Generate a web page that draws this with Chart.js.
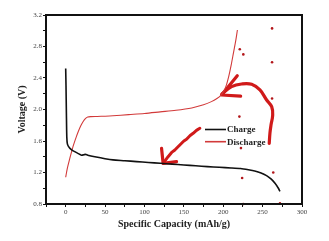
<!DOCTYPE html>
<html>
<head>
<meta charset="utf-8">
<script src="https://cdn.jsdelivr.net/npm/chart.js@4/dist/chart.umd.min.js"></script>
<style>
html,body{margin:0;padding:0;background:#fff;}
#wrap{width:329px;height:241px;}
</style>
</head>
<body>
<div id="wrap"><canvas id="c" width="329" height="241"></canvas></div>
<script>
// Charge curve (black)
const chargeCap = [0, 0.4, 0.9, 1.4, 2.2, 5, 8, 11.5, 16, 20, 23, 25, 28, 37, 50, 60, 75, 90, 105, 120, 135, 150, 165, 180, 195, 210, 222, 232, 240, 248, 255, 261, 266, 270, 272];
const chargeV   = [2.52, 2.3, 1.95, 1.65, 1.56, 1.51, 1.485, 1.465, 1.44, 1.42, 1.425, 1.43, 1.42, 1.40, 1.375, 1.36, 1.35, 1.338, 1.327, 1.317, 1.306, 1.296, 1.285, 1.274, 1.266, 1.258, 1.25, 1.235, 1.22, 1.195, 1.16, 1.115, 1.06, 1.0, 0.96];
// Discharge curve (red)
const dischargeCap = [0, 2, 5, 9, 13, 16, 19, 22, 25, 28, 32, 40, 50, 60, 80, 100, 120, 140, 160, 175, 185, 192, 197, 201, 204, 207, 210, 213, 216, 218];
const dischargeV   = [1.14, 1.25, 1.37, 1.52, 1.64, 1.72, 1.79, 1.845, 1.885, 1.905, 1.91, 1.912, 1.915, 1.92, 1.935, 1.95, 1.97, 1.99, 2.02, 2.06, 2.10, 2.14, 2.18, 2.24, 2.31, 2.42, 2.56, 2.72, 2.88, 3.01];
// Red dot marks (annotations)
const dotCap = [262, 221, 225.5, 262, 262, 220.5, 222.5, 263.5, 224, 272, 225.5];
const dotV   = [3.03, 2.765, 2.70, 2.60, 2.14, 1.91, 1.51, 1.20, 1.13, 0.81, 0.80];
// Hand-drawn arrow 1 (upper right)
const arrow1HeadCap = [217.8, 197.9, 222.1];
const arrow1HeadV   = [2.43, 2.184, 2.17];
const arrow1ShaftCap = [198.3, 210.6, 223.3, 236.1, 246.6, 255.1, 261.5, 262.8, 260.6, 259.3, 258.4];
const arrow1ShaftV   = [2.197, 2.29, 2.324, 2.32, 2.248, 2.121, 2.036, 1.93, 1.80, 1.70, 1.57];
// Hand-drawn arrow 2 (middle)
const arrow2HeadCap = [121.7, 123.7, 140.7];
const arrow2HeadV   = [1.507, 1.317, 1.337];
const arrow2ShaftCap = [123.7, 130.0, 134.5, 138.6, 142.0, 144.9, 150.0, 153.4, 158.0, 161.8, 166.0, 170.3];
const arrow2ShaftV   = [1.317, 1.401, 1.455, 1.486, 1.52, 1.549, 1.60, 1.622, 1.67, 1.698, 1.735, 1.761];
// Axis ticks
const xTickLabels = [0, 50, 100, 150, 200, 250, 300];
const yTickLabels = [0.8, 1.2, 1.6, 2.0, 2.4, 2.8, 3.2];

const pts = (xs, ys) => xs.map((x, i) => ({x: x, y: ys[i]}));
const RED = '#d01a1a';
const SERIF = "'Liberation Serif', 'DejaVu Serif', serif";

const frame = {
  id: 'frame',
  afterDatasetsDraw(chart) {
    const {ctx, chartArea: a} = chart;
    ctx.save();
    ctx.strokeStyle = '#111';
    ctx.lineWidth = 2;
    ctx.strokeRect(a.left, a.top, a.right - a.left, a.bottom - a.top);
    ctx.restore();
  },
  afterDraw(chart) {
    const {ctx, chartArea: a} = chart;
    const items = [chart.data.datasets[0], chart.data.datasets[1]];
    ctx.save();
    ctx.font = "bold 9px " + SERIF;
    ctx.textBaseline = 'middle';
    items.forEach((ds, i) => {
      const y = a.top + 114.5 + i * 12.2;
      const x0 = a.left + 159;
      ctx.strokeStyle = ds.borderColor;
      ctx.lineWidth = 1.6;
      ctx.beginPath();
      ctx.moveTo(x0, y);
      ctx.lineTo(x0 + 21, y);
      ctx.stroke();
      ctx.fillStyle = '#222';
      ctx.fillText(ds.label, x0 + 22, y + 0.5);
    });
    ctx.restore();
  }
};

new Chart(document.getElementById('c'), {
  type: 'scatter',
  data: {
    datasets: [
      {label: 'Charge', data: pts(chargeCap, chargeV), showLine: true, borderColor: '#111', borderWidth: 1.6, pointRadius: 0, tension: 0.2},
      {label: 'Discharge', data: pts(dischargeCap, dischargeV), showLine: true, borderColor: '#d23a3a', borderWidth: 1.1, pointRadius: 0, tension: 0.3},
      {label: 'marks', data: pts(dotCap, dotV), showLine: false, pointRadius: 1.3, pointBackgroundColor: '#b3161a', pointBorderWidth: 0, borderColor: '#b3161a', clip: false},
      {label: 'a1h', data: pts(arrow1HeadCap, arrow1HeadV), showLine: true, borderColor: RED, borderWidth: 3.2, pointRadius: 0, tension: 0, borderJoinStyle: 'round', borderCapStyle: 'round'},
      {label: 'a1s', data: pts(arrow1ShaftCap, arrow1ShaftV), showLine: true, borderColor: RED, borderWidth: 3.2, pointRadius: 0, tension: 0.4, borderCapStyle: 'round'},
      {label: 'a2h', data: pts(arrow2HeadCap, arrow2HeadV), showLine: true, borderColor: RED, borderWidth: 3.2, pointRadius: 0, tension: 0, borderJoinStyle: 'round', borderCapStyle: 'round'},
      {label: 'a2s', data: pts(arrow2ShaftCap, arrow2ShaftV), showLine: true, borderColor: RED, borderWidth: 3, pointRadius: 0, tension: 0, borderJoinStyle: 'round', borderCapStyle: 'round'}
    ]
  },
  options: {
    responsive: false,
    animation: false,
    layout: {padding: {left: 16, top: 15, right: 27, bottom: 11}},
    plugins: {legend: {display: false}, tooltip: {enabled: false}},
    scales: {
      x: {
        type: 'linear', min: -25, max: 300,
        afterFit(s) { s.height = 26; },
        border: {display: true, color: '#111', width: 2},
        grid: {drawOnChartArea: false, drawTicks: true, tickLength: 3, tickColor: '#111'},
        ticks: {
          stepSize: 25, padding: 1, color: '#444', maxRotation: 0, autoSkip: false,
          font: {family: SERIF, size: 7},
          callback: v => xTickLabels.includes(v) ? String(v) : ''
        },
        title: {display: true, text: 'Specific Capacity (mAh/g)', color: '#222', padding: 0,
          font: {family: SERIF, size: 10, weight: 'bold'}}
      },
      y: {
        type: 'linear', min: 0.8, max: 3.2,
        afterFit(s) { s.width = 30; },
        border: {display: true, color: '#111', width: 2},
        grid: {drawOnChartArea: false, drawTicks: true, tickLength: 3, tickColor: '#111'},
        ticks: {
          stepSize: 0.2, padding: 1, color: '#444', autoSkip: false,
          font: {family: SERIF, size: 7},
          callback: v => {
            const r = Math.round(v * 10) / 10;
            return yTickLabels.some(t => Math.abs(t - r) < 1e-6) ? r.toFixed(1) : '';
          }
        },
        title: {display: true, text: 'Voltage (V)', color: '#222', padding: 0,
          font: {family: SERIF, size: 10, weight: 'bold'}}
      }
    }
  },
  plugins: [frame]
});
</script>
</body>
</html>
